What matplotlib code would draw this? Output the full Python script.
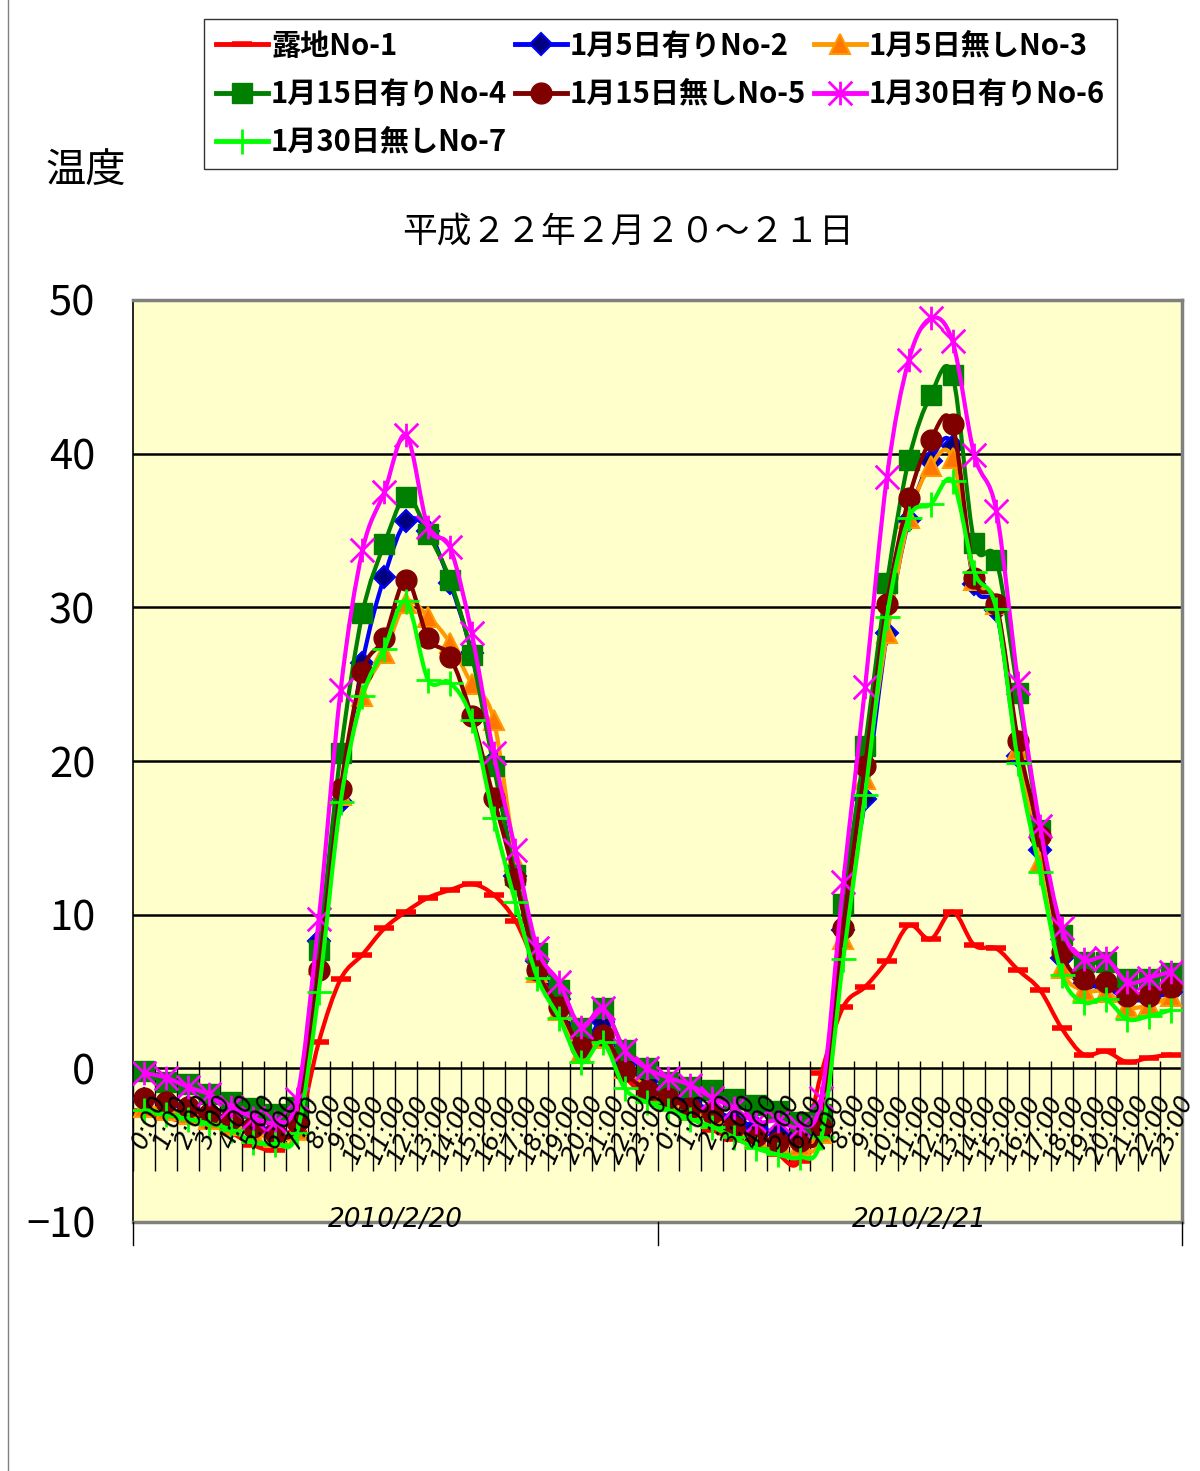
import numpy as np
import matplotlib
matplotlib.use('Agg')
import matplotlib.pyplot as plt
from matplotlib.path import Path
from matplotlib.patches import PathPatch
from matplotlib.lines import Line2D

plt.rcParams['font.family'] = ['Noto Sans CJK JP', 'DejaVu Sans']

# hourly temperatures, 2010/2/20 0:00 .. 2010/2/21 23:00
hour_labels = ['0:00', '1:00', '2:00', '3:00', '4:00', '5:00', '6:00', '7:00',
               '8:00', '9:00', '10:00', '11:00', '12:00', '13:00', '14:00', '15:00',
               '16:00', '17:00', '18:00', '19:00', '20:00', '21:00', '22:00', '23:00']
date_labels = ['2010/2/20', '2010/2/21']

no1 = [-2.8, -3.2, -3.5, -3.7, -4.2, -5.0, -5.3, -4.2,
       1.7, 5.8, 7.4, 9.1, 10.2, 11.1, 11.6, 12.0, 11.3, 9.6, 6.5, 4.0, 1.5, 2.0, -0.5, -1.8,
       -2.5, -3.2, -4.0, -4.6, -5.0, -5.6, -6.0, -0.3,
       4.0, 5.3, 7.0, 9.3, 8.4, 10.2, 8.0, 7.8, 6.4, 5.1, 2.6, 0.9, 1.1, 0.4, 0.7, 0.9]
no2 = [-2.0, -2.2, -2.5, -2.9, -3.3, -3.7, -4.0, -3.4,
       8.3, 17.3, 26.4, 32.0, 35.6, 35.0, 31.6, 27.0, 20.0, 12.5, 7.0, 4.5, 1.5, 3.0, 0.3, -0.8,
       -1.5, -2.2, -2.7, -3.3, -3.8, -4.2, -4.4, -3.7,
       9.0, 17.5, 28.3, 35.7, 39.5, 40.5, 31.5, 29.8, 20.3, 14.2, 7.2, 5.5, 5.3, 4.5, 4.5, 5.0]
no3 = [-2.5, -2.7, -3.0, -3.3, -3.7, -4.2, -4.5, -4.0,
       6.8, 17.8, 24.2, 27.0, 30.3, 29.4, 27.7, 25.0, 22.7, 13.5, 6.3, 3.8, 1.0, 2.0, 0.0, -1.2,
       -2.0, -2.7, -3.2, -3.8, -4.4, -4.8, -5.0, -4.2,
       8.4, 18.8, 28.3, 35.8, 39.2, 39.7, 31.8, 30.2, 20.8, 13.4, 6.5, 5.1, 5.0, 4.0, 4.1, 4.7]
no4 = [-0.2, -0.9, -1.0, -1.7, -2.2, -2.6, -3.0, -2.5,
       7.7, 20.5, 29.6, 34.1, 37.2, 34.8, 31.8, 26.9, 19.7, 12.6, 7.5, 5.1, 2.6, 3.9, 1.2, 0.0,
       -0.9, -1.2, -1.4, -2.0, -2.4, -2.8, -3.5, -3.0,
       10.7, 21.0, 31.6, 39.6, 43.8, 45.1, 34.2, 33.1, 24.4, 15.5, 8.7, 6.9, 6.9, 5.8, 5.8, 6.2]
no5 = [-1.9, -2.2, -2.5, -3.0, -3.3, -3.8, -4.2, -3.5,
       6.4, 18.2, 25.8, 28.0, 31.8, 28.0, 26.8, 22.9, 17.6, 12.3, 6.4, 4.0, 1.4, 2.2, -0.2, -1.4,
       -1.9, -2.6, -2.9, -3.8, -4.4, -4.8, -4.7, -3.8,
       9.1, 19.7, 30.2, 37.1, 40.9, 41.9, 31.9, 30.2, 21.3, 15.1, 7.6, 5.8, 5.6, 4.7, 4.7, 5.3]
no6 = [-0.3, -0.6, -1.2, -1.7, -2.5, -3.2, -3.5, -2.0,
       9.7, 24.6, 33.7, 37.5, 41.2, 35.2, 33.9, 28.3, 20.5, 14.2, 7.8, 5.6, 2.7, 3.9, 1.2, 0.0,
       -0.6, -1.1, -1.9, -2.6, -3.5, -3.4, -3.8, -1.9,
       12.1, 24.8, 38.5, 46.1, 48.8, 47.3, 39.9, 36.3, 25.1, 15.8, 9.1, 7.1, 7.2, 5.6, 5.9, 6.3]
no7 = [-2.7, -3.0, -3.3, -3.6, -4.0, -4.8, -4.9, -4.2,
       5.0, 17.3, 24.2, 27.3, 30.4, 25.3, 25.1, 22.7, 16.3, 10.8, 5.9, 3.3, 0.4, 1.7, -1.3, -2.2,
       -2.7, -3.3, -3.8, -4.5, -5.2, -5.6, -5.8, -4.5,
       7.1, 17.8, 29.4, 35.8, 36.7, 38.2, 32.3, 29.9, 19.9, 12.8, 6.1, 4.3, 4.5, 3.2, 3.4, 3.8]

names = ['露地No-1', '1月5日有りNo-2', '1月5日無しNo-3', '1月15日有りNo-4',
         '1月15日無しNo-5', '1月30日有りNo-6', '1月30日無しNo-7']

star = Path([(-1, -1), (1, 1), (-1, 1), (1, -1), (0, -1), (0, 1)],
            [Path.MOVETO, Path.LINETO, Path.MOVETO, Path.LINETO, Path.MOVETO, Path.LINETO])

# line colour, marker, size, face, edge, edge width
styles = [
    ('#FF0000', '_', 15, '#FF0000', '#FF0000', 4),
    ('#0000FF', 'D', 11, '#000080', '#0000FF', 1.5),
    ('#FF9900', '^', 14, '#FF7700', '#FF9900', 1.5),
    ('#008000', 's', 14, '#008000', '#008000', 1),
    ('#800000', 'o', 15, '#800000', '#800000', 1),
    ('#FF00FF', star, 17, '#FF00FF', '#FF00FF', 2),
    ('#00FF00', '+', 18, '#00FF00', '#00FF00', 2),
]


def smooth_path(xs, ys):
    pts = np.column_stack([xs, ys])
    n = len(pts)
    verts = [pts[0]]
    codes = [Path.MOVETO]
    for i in range(n - 1):
        p0 = pts[max(i - 1, 0)]
        p1 = pts[i]
        p2 = pts[i + 1]
        p3 = pts[min(i + 2, n - 1)]
        verts += [p1 + (p2 - p0) / 6, p2 - (p3 - p1) / 6, p2]
        codes += [Path.CURVE4] * 3
    return Path(verts, codes)


fig = plt.figure(figsize=(12, 14.71), dpi=100)
ax = fig.add_axes([133 / 1200, 1 - 1222 / 1471, 1049 / 1200, 922 / 1471])
ax.set_facecolor('#FFFFCC')
ax.set_xlim(0, 48)
ax.set_ylim(-10, 50)

for v in [0, 10, 20, 30, 40]:
    ax.axhline(v, color='black', lw=1.8, zorder=1)

# hour ticks inside the plot
ax.vlines(np.arange(0, 49), -6.7, 0.5, color='black', lw=1, zorder=1)

x = np.arange(48) + 0.5
series = [no1, no2, no3, no4, no5, no6, no7]
handles = []
for k, (vals, st) in enumerate(zip(series, styles)):
    color, mk, ms, mfc, mec, mew = st
    z = 3 + k
    ax.add_patch(PathPatch(smooth_path(x, vals), facecolor='none', edgecolor=color,
                           lw=3, zorder=z, capstyle='round', joinstyle='round'))
    ax.plot(x, vals, ls='none', marker=mk, ms=ms, mfc=mfc, mec=mec, mew=mew, zorder=z + 0.5)
    handles.append(Line2D([], [], color=color, lw=3.5, marker=mk, ms=ms,
                          mfc=mfc, mec=mec, mew=mew))

for d in range(2):
    for h, lab in enumerate(hour_labels):
        ax.text(d * 24 + h + 0.5 + 0.75, -1.8, lab, rotation=67, rotation_mode='anchor',
                ha='right', va='center', fontsize=18, style='italic',
                family='DejaVu Sans', zorder=20)
    ax.text(d * 24 + 12, -9.85, date_labels[d], ha='center', va='center',
            fontsize=19, style='italic', family='DejaVu Sans', zorder=20)

# day separators below the plot
for xs in [0, 24, 48]:
    ax.plot([xs, xs], [-10, -11.5], color='black', lw=1, clip_on=False, zorder=20)

ax.set_yticks([-10, 0, 10, 20, 30, 40, 50])
ax.set_yticklabels(['−10', '0', '10', '20', '30', '40', '50'])
ax.tick_params(axis='y', labelsize=30, length=0, pad=27)
ax.set_xticks([])
for s in ['top', 'right', 'bottom']:
    ax.spines[s].set_color('#808080')
    ax.spines[s].set_linewidth(2.5)
ax.spines['left'].set_color('black')
ax.spines['left'].set_linewidth(1.2)

fig.text(628 / 1200, 1 - 232 / 1471, '平成２２年２月２０～２１日', ha='center', va='center',
         fontsize=25)
fig.text(45 / 1200, 1 - 170 / 1471, '温度', ha='left', va='center', fontsize=29)

# legend is filled row by row in the reference: reorder for column-major filling
order = [0, 3, 6, 1, 4, 2, 5]
leg = fig.legend([handles[i] for i in order], [names[i] for i in order],
                 loc='upper left', bbox_to_anchor=(204 / 1200, 1 - 19 / 1471),
                 ncol=3, prop={'weight': 'bold', 'size': 21},
                 frameon=True, fancybox=False, edgecolor='black', borderpad=0.4,
                 handlelength=1.8, handletextpad=0.1, columnspacing=0.25,
                 labelspacing=0.62, borderaxespad=0)
leg.get_frame().set_linewidth(1)

fig.add_artist(Line2D([8 / 1200, 8 / 1200], [0, 1], color='#808080', lw=1))

fig.savefig('out.png', dpi=100)
